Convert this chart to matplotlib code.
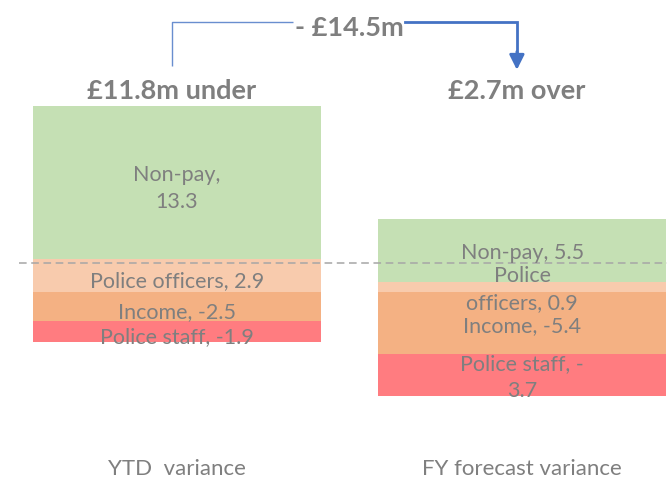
import numpy as np
import matplotlib
matplotlib.use('Agg')
import matplotlib.pyplot as plt

# ---- data ----
CATEGORIES = ['YTD  variance', 'FY forecast variance']
HEADLINES = ['£11.8m under', '£2.7m over']
CHANGE_LABEL = '- £14.5m'
# stacking order: positives go up from zero, negatives go down from zero
SERIES = ['Police officers', 'Non-pay', 'Income', 'Police staff']
YTD = [2.9, 13.3, -2.5, -1.9]
FY = [0.9, 5.5, -5.4, -3.7]
YTD_LABELS = ['Police officers, 2.9', 'Non-pay,\n13.3', 'Income, -2.5', 'Police staff, -1.9']
FY_LABELS = ['Police\nofficers, 0.9', 'Non-pay, 5.5', 'Income, -5.4', 'Police staff, -\n3.7']
REF_LINE = 2.5

COLORS = {'Non-pay': '#C5E0B4', 'Police officers': '#F8CBAD',
          'Income': '#F4B183', 'Police staff': '#FF7C80'}
GREY = '#7F7F7F'
BLUE = '#4472C4'
FONT = ['Lato', 'DejaVu Sans']

plt.rcParams['font.family'] = FONT

fig = plt.figure(figsize=(6.67, 4.8), dpi=100)
ax = fig.add_axes([0, 0, 1, 1])
# zero sits ~292 px from the top, ~11.45 px per £m; bars ~345 px apart
ax.set_xlim(-0.513, 1.420)
ax.set_ylim(-16.42, 25.5)

x = np.arange(len(CATEGORIES))
W = 0.835
LABEL_DY = [-4, -2]   # points; YTD labels sit a touch lower in the original
for i, (vals, labs) in enumerate([(YTD, YTD_LABELS), (FY, FY_LABELS)]):
    pos, neg = 0.0, 0.0
    for name, v, lab in zip(SERIES, vals, labs):
        if v >= 0:
            bottom = pos
            pos += v
        else:
            bottom = neg
            neg += v
        ax.bar(x[i], v, W, bottom=bottom, color=COLORS[name], edgecolor='none', zorder=2)
        ax.annotate(lab, (x[i], bottom + v / 2), xytext=(0, LABEL_DY[i]),
                    textcoords='offset points', ha='center', va='center', color=GREY,
                    fontsize=15.5, linespacing=1.45, zorder=4)

ax.axhline(REF_LINE, xmin=19 / 667, xmax=1, color='#A6A6A6', ls=(0, (5, 3)), lw=1.1, zorder=3)

# headlines above bars
for i, h in enumerate(HEADLINES):
    ax.text(x[i] - 0.015, 16.86, h, ha='center', va='baseline', color=GREY,
            fontsize=19.5, fontweight='bold')

# category names under the bars
for i, c in enumerate(CATEGORIES):
    ax.text(x[i], -15.95, c, ha='center', va='baseline', color=GREY, fontsize=16)

# change bracket with arrow
yb = 23.58
xl, xr = x[0] - 0.015, x[1] - 0.015
xm = (xl + xr) / 2 + 0.015
ax.plot([xl, xl, xm - 0.165], [19.74, yb, yb], color=BLUE, lw=1, alpha=0.8, zorder=3,
        solid_capstyle='butt')
ax.plot([xm + 0.16, xr, xr], [yb, yb, 20.8], color=BLUE, lw=2, zorder=3,
        solid_joinstyle='miter')
ax.annotate('', xy=(xr, 19.4), xytext=(xr, 21.0),
            arrowprops=dict(arrowstyle='-|>,head_length=0.9,head_width=0.45',
                            color=BLUE, lw=2, shrinkA=0, shrinkB=0))
ax.text(xm, 22.35, CHANGE_LABEL, ha='center', va='baseline', color=GREY,
        fontsize=19.5, fontweight='bold')

ax.set_xticks([])
ax.set_yticks([])
for s in ax.spines.values():
    s.set_visible(False)

fig.savefig('out.png', dpi=100, facecolor='white')
